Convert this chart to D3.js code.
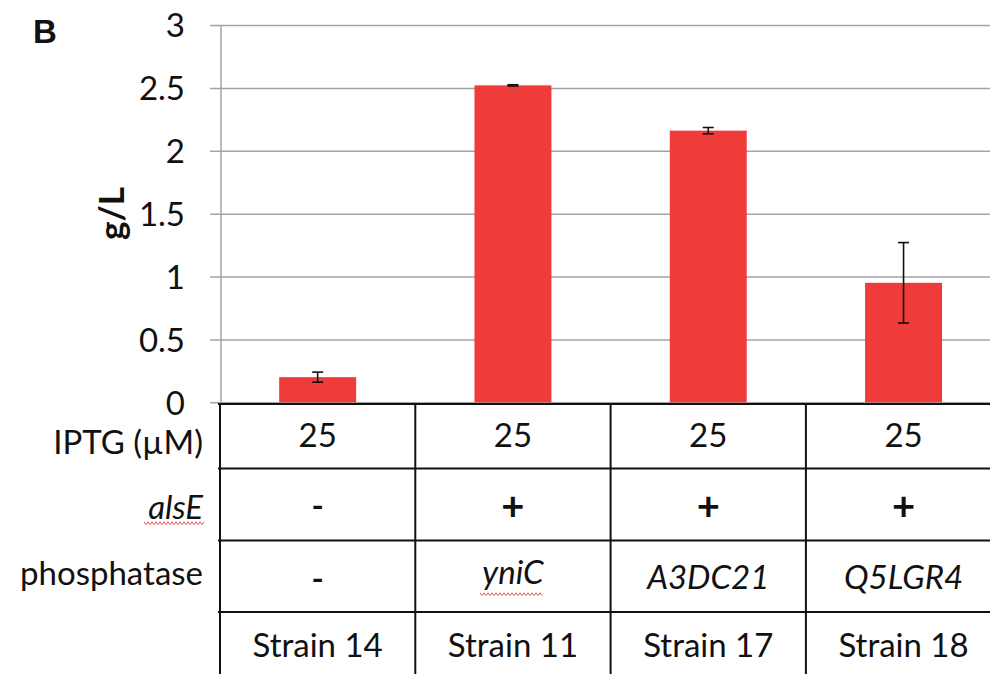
<!DOCTYPE html>
<html>
<head>
<meta charset="utf-8">
<script src="https://cdn.jsdelivr.net/npm/d3@7"></script>
<style>
  html, body { margin: 0; padding: 0; background: #fff; }
  svg { display: block; }
  text { fill: #111; }
</style>
</head>
<body>
<svg id="chart" width="990" height="674"></svg>
<script>
// Production titre per strain (g/L) with standard deviation
const strains = ["Strain 14", "Strain 11", "Strain 17", "Strain 18"];
const titre = [0.20, 2.52, 2.16, 0.95];
const titreSd = [0.04, 0.005, 0.025, 0.32];

// Genotype / induction table under the bars
const iptgRow = ["25", "25", "25", "25"];
const alsERow = ["-", "+", "+", "+"];
const phosphataseRow = ["-", "yniC", "A3DC21", "Q5LGR4"];
const rowLabels = ["IPTG (\u00B5M)", "alsE", "phosphatase"];

const yTicks = [0, 0.5, 1, 1.5, 2, 2.5, 3];

const FONT = "Lato, 'Open Sans', sans-serif";
const svg = d3.select("#chart");
const W = 990, H = 674;

const y = d3.scaleLinear().domain([0, 3]).range([402.3, 25]);
const cols = d3.scaleBand().domain(strains).range([220, 1001.2]).padding(0);
const bars = d3.scaleBand().domain(strains).range([220, 1001.2])
  .paddingInner(0.606).paddingOuter(0.303);

// Gridlines + tick labels
const yAxis = d3.axisLeft(y).tickValues(yTicks).tickSize(-(W - 210)).tickPadding(25)
  .tickFormat(d => String(d));
const gy = svg.append("g").attr("transform", "translate(210,0)").call(yAxis);
gy.select(".domain").remove();
gy.selectAll(".tick line").attr("stroke", "#a3a3a3").attr("stroke-width", 1.5);
gy.selectAll(".tick text")
  .attr("font-family", FONT).attr("font-size", 33)
  .attr("fill", "#111").attr("dy", "0.36em");

// Vertical value axis line
svg.append("line").attr("x1", 221).attr("x2", 221).attr("y1", y(3)).attr("y2", y(0) + 1)
  .attr("stroke", "#a3a3a3").attr("stroke-width", 1.5);

// Bars
svg.append("g").selectAll("rect").data(strains).join("rect")
  .attr("x", d => bars(d))
  .attr("width", bars.bandwidth())
  .attr("y", (d, i) => y(titre[i]))
  .attr("height", (d, i) => y(0) - y(titre[i]))
  .attr("fill", "#ef3b39");

// Error bars
const eb = svg.append("g").attr("stroke", "#111").attr("stroke-width", 1.6);
strains.forEach((s, i) => {
  const cx = bars(s) + bars.bandwidth() / 2;
  const top = y(titre[i] + titreSd[i]), bot = y(titre[i] - titreSd[i]);
  eb.append("line").attr("x1", cx).attr("x2", cx).attr("y1", top).attr("y2", bot);
  eb.append("line").attr("x1", cx - 5.5).attr("x2", cx + 5.5).attr("y1", top).attr("y2", top);
  eb.append("line").attr("x1", cx - 5.5).attr("x2", cx + 5.5).attr("y1", bot).attr("y2", bot);
});

// Table grid
const rowEdges = [404, 468.5, 540.5, 612];
const tg = svg.append("g").attr("stroke", "#111").attr("stroke-width", 2);
rowEdges.forEach(ry => {
  tg.append("line").attr("x1", 218).attr("x2", W).attr("y1", ry).attr("y2", ry);
});
strains.forEach(s => {
  tg.append("line").attr("x1", cols(s)).attr("x2", cols(s)).attr("y1", 403).attr("y2", H);
});

// Table cell text
function cellRow(values, baseline, opts) {
  svg.append("g").selectAll("text").data(values).join("text")
    .attr("x", (d, i) => cols(strains[i]) + cols.bandwidth() / 2)
    .attr("y", (d, i) => typeof baseline === "function" ? baseline(d, i) : baseline)
    .attr("text-anchor", "middle")
    .attr("font-family", FONT)
    .attr("font-size", d => opts.size ? opts.size(d) : 33)
    .attr("font-style", d => opts.italic && opts.italic(d) ? "italic" : "normal")
    .attr("font-weight", d => opts.bold && opts.bold(d) ? "bold" : "normal")
    .text(d => d);
}
const isSign = d => d === "+" || d === "-";
cellRow(iptgRow, 447, {});
cellRow(alsERow, d => d === "+" ? 520 : 517,
  { bold: isSign, size: d => d === "+" ? 40 : 33 });
cellRow(phosphataseRow, d => d === "-" ? 590 : (d === "yniC" ? 584 : 589),
  { bold: isSign, italic: d => !isSign(d) });
cellRow(strains, 657, {});

// Row labels, right-aligned against the table
const labelBase = [454, 519, 585];
svg.append("g").selectAll("text").data(rowLabels).join("text")
  .attr("x", 203)
  .attr("y", (d, i) => labelBase[i])
  .attr("text-anchor", "end")
  .attr("font-family", FONT)
  .attr("font-size", 33)
  .attr("font-style", d => d === "alsE" ? "italic" : "normal")
  .text(d => d);

// Spell-check style wavy underline under gene names
function squiggle(x0, x1, yy) {
  const pts = [];
  for (let x = x0, k = 0; x <= x1; x += 2, k++) pts.push([x, yy + (k % 2 ? 1.6 : -1.2)]);
  svg.append("path").attr("d", d3.line()(pts)).attr("fill", "none")
    .attr("stroke", "#e8585a").attr("stroke-width", 1);
}
squiggle(144, 204, 523);
squiggle(480, 543, 594);

// Value axis title
svg.append("text")
  .attr("transform", "translate(124,213.5) rotate(-90)")
  .attr("text-anchor", "middle")
  .attr("font-family", FONT)
  .attr("font-size", 35).attr("font-weight", "bold")
  .text("g/L");

// Panel letter
svg.append("text")
  .attr("x", 33).attr("y", 43)
  .attr("font-family", "'Liberation Sans', Arial, sans-serif")
  .attr("font-size", 33).attr("font-weight", "bold")
  .text("B");
</script>
</body>
</html>
